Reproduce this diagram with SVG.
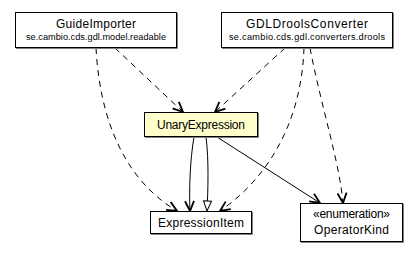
<svg xmlns="http://www.w3.org/2000/svg" width="417" height="253" viewBox="0 0 417 253">
  <style>
    .box { fill: #ffffff; stroke: #000000; stroke-width: 1; }
    .active { fill: #ffffcc; }
    .shadow { fill: none; stroke: #808080; stroke-width: 1; }
    .title { font-family: "Liberation Sans", Arial, sans-serif; font-size: 12px; fill: #000; text-anchor: middle; }
    .pkg { font-family: "Liberation Sans", Arial, sans-serif; font-size: 9.2px; fill: #000; text-anchor: middle; }
    .dep { fill: none; stroke: #000; stroke-width: 1; stroke-dasharray: 6 5; }
    .assoc { fill: none; stroke: #000; stroke-width: 1; }
  </style>
  <defs>
    <marker id="open" markerUnits="userSpaceOnUse" markerWidth="14" markerHeight="12" viewBox="-12 -6 14 12" refX="0" refY="0" orient="auto">
      <path d="M-10,-4.5 L0,0 L-10,4.5" fill="none" stroke="#000" stroke-width="1.8"/>
    </marker>
    <marker id="extends" markerUnits="userSpaceOnUse" markerWidth="14" markerHeight="12" viewBox="-12 -6 14 12" refX="0" refY="0" orient="auto">
      <path d="M-10,-4 L0,0 L-10,4 Z" fill="#fff" stroke="#000" stroke-width="1"/>
    </marker>
  </defs>

  <g id="connectors">
    <path class="dep" d="M115,48 L183,112" marker-end="url(#open)"/>
    <path class="dep" d="M285,48 L215,112" marker-end="url(#open)"/>
    <path class="dep" d="M96,48 C101,140 138,188 177,211" marker-end="url(#open)"/>
    <path class="dep" d="M304,48 C301,130 262,182 220,211" marker-end="url(#open)"/>
    <path class="dep" d="M310,48 C322,110 339,160 343,203" marker-end="url(#open)"/>
    <path class="assoc" d="M194,137 C190,160 189,190 190,211" marker-end="url(#open)"/>
    <path class="assoc" d="M206,137 C209,160 208,190 207,211" marker-end="url(#extends)"/>
    <path class="assoc" d="M217,137 L320,203" marker-end="url(#open)"/>
  </g>

  <g id="GuideImporter">
    <rect class="box" x="15.5" y="12.5" width="161" height="35"/>
    <path class="shadow" d="M177.5,13 V48.5 H16"/>
    <text class="title" x="96" y="28" textLength="80" lengthAdjust="spacing">GuideImporter</text>
    <text class="pkg" x="96" y="40" textLength="140" lengthAdjust="spacing">se.cambio.cds.gdl.model.readable</text>
  </g>

  <g id="GDLDroolsConverter">
    <rect class="box" x="221.5" y="12.5" width="171" height="35"/>
    <path class="shadow" d="M393.5,13 V48.5 H222"/>
    <text class="title" x="307" y="28" textLength="122" lengthAdjust="spacing">GDLDroolsConverter</text>
    <text class="pkg" x="307" y="40" textLength="156" lengthAdjust="spacing">se.cambio.cds.gdl.converters.drools</text>
  </g>

  <g id="UnaryExpression">
    <rect class="box active" x="144.5" y="112.5" width="113" height="24"/>
    <path class="shadow" d="M258.5,113 V137.5 H145"/>
    <text class="title" x="201" y="128.5" textLength="88" lengthAdjust="spacing">UnaryExpression</text>
  </g>

  <g id="ExpressionItem">
    <rect class="box" x="150.5" y="211.5" width="101" height="22"/>
    <path class="shadow" d="M252.5,212 V234.5 H151"/>
    <text class="title" x="201" y="226.5" textLength="86" lengthAdjust="spacing">ExpressionItem</text>
  </g>

  <g id="OperatorKind">
    <rect class="box" x="300.5" y="203.5" width="102" height="38"/>
    <path class="shadow" d="M403.5,204 V242.5 H301"/>
    <text class="title" x="351.5" y="217.5" textLength="77" lengthAdjust="spacing">«enumeration»</text>
    <text class="title" x="351.5" y="233.5" textLength="75" lengthAdjust="spacing">OperatorKind</text>
  </g>
</svg>
